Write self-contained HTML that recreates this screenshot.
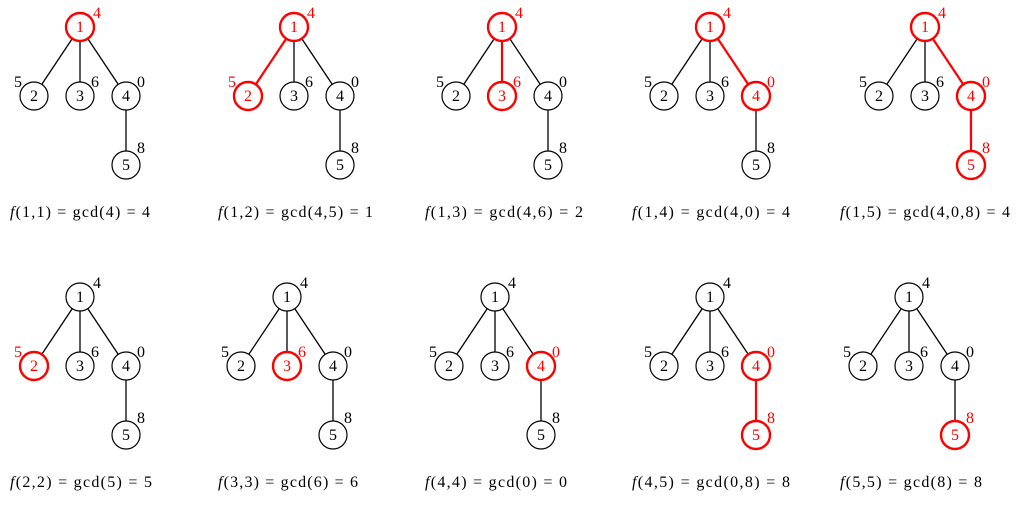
<!DOCTYPE html>
<html><head><meta charset="utf-8"><style>
html,body{margin:0;padding:0;background:#fff}
svg{display:block}
text{font-family:"Liberation Serif",serif;font-size:16px}
.n{font-size:16px;text-anchor:middle}
.c{font-size:16px}
</style></head><body>
<svg width="1020" height="505" viewBox="0 0 1020 505" xmlns="http://www.w3.org/2000/svg">
<defs>
<style>
line{stroke:#000;stroke-width:1.3}
line.r{stroke:#f00;stroke-width:2.2}
circle{fill:#fff;stroke:#000;stroke-width:1.2}
circle.r{stroke:#f00;stroke-width:2.4}
text.r{fill:#f00}
</style>
</defs>

<g transform="translate(80,27)">
<line x1="0" y1="0" x2="-46" y2="69"/><line x1="0" y1="0" x2="0" y2="69"/><line x1="0" y1="0" x2="46" y2="69"/><line x1="46" y1="69" x2="46" y2="138"/>
<circle class="r" cx="0" cy="0" r="14"/><circle cx="-46" cy="69" r="14"/><circle cx="0" cy="69" r="14"/><circle cx="46" cy="69" r="14"/><circle cx="46" cy="138" r="14"/>
<text class="n r" x="0" y="5">1</text><text class="n" x="-46" y="74">2</text><text class="n" x="0" y="74">3</text><text class="n" x="46" y="74">4</text><text class="n" x="46" y="143">5</text>
<text class="r" x="13" y="-9">4</text><text x="-66" y="60">5</text><text x="11" y="60">6</text><text x="57" y="60">0</text><text x="57" y="126">8</text>
</g>
<text class="c" x="10" y="217" textLength="140" lengthAdjust="spacing"><tspan font-style="italic">f</tspan>(1,1) = gcd(4) = 4</text>

<g transform="translate(294,27)">
<line class="r" x1="0" y1="0" x2="-46" y2="69"/><line x1="0" y1="0" x2="0" y2="69"/><line x1="0" y1="0" x2="46" y2="69"/><line x1="46" y1="69" x2="46" y2="138"/>
<circle class="r" cx="0" cy="0" r="14"/><circle class="r" cx="-46" cy="69" r="14"/><circle cx="0" cy="69" r="14"/><circle cx="46" cy="69" r="14"/><circle cx="46" cy="138" r="14"/>
<text class="n r" x="0" y="5">1</text><text class="n r" x="-46" y="74">2</text><text class="n" x="0" y="74">3</text><text class="n" x="46" y="74">4</text><text class="n" x="46" y="143">5</text>
<text class="r" x="13" y="-9">4</text><text class="r" x="-66" y="60">5</text><text x="11" y="60">6</text><text x="57" y="60">0</text><text x="57" y="126">8</text>
</g>
<text class="c" x="218" y="217" textLength="155" lengthAdjust="spacing"><tspan font-style="italic">f</tspan>(1,2) = gcd(4,5) = 1</text>

<g transform="translate(502,27)">
<line x1="0" y1="0" x2="-46" y2="69"/><line class="r" x1="0" y1="0" x2="0" y2="69"/><line x1="0" y1="0" x2="46" y2="69"/><line x1="46" y1="69" x2="46" y2="138"/>
<circle class="r" cx="0" cy="0" r="14"/><circle cx="-46" cy="69" r="14"/><circle class="r" cx="0" cy="69" r="14"/><circle cx="46" cy="69" r="14"/><circle cx="46" cy="138" r="14"/>
<text class="n r" x="0" y="5">1</text><text class="n" x="-46" y="74">2</text><text class="n r" x="0" y="74">3</text><text class="n" x="46" y="74">4</text><text class="n" x="46" y="143">5</text>
<text class="r" x="13" y="-9">4</text><text x="-66" y="60">5</text><text class="r" x="11" y="60">6</text><text x="57" y="60">0</text><text x="57" y="126">8</text>
</g>
<text class="c" x="425" y="217" textLength="158" lengthAdjust="spacing"><tspan font-style="italic">f</tspan>(1,3) = gcd(4,6) = 2</text>

<g transform="translate(710,27)">
<line x1="0" y1="0" x2="-46" y2="69"/><line x1="0" y1="0" x2="0" y2="69"/><line class="r" x1="0" y1="0" x2="46" y2="69"/><line x1="46" y1="69" x2="46" y2="138"/>
<circle class="r" cx="0" cy="0" r="14"/><circle cx="-46" cy="69" r="14"/><circle cx="0" cy="69" r="14"/><circle class="r" cx="46" cy="69" r="14"/><circle cx="46" cy="138" r="14"/>
<text class="n r" x="0" y="5">1</text><text class="n" x="-46" y="74">2</text><text class="n" x="0" y="74">3</text><text class="n r" x="46" y="74">4</text><text class="n" x="46" y="143">5</text>
<text class="r" x="13" y="-9">4</text><text x="-66" y="60">5</text><text x="11" y="60">6</text><text class="r" x="57" y="60">0</text><text x="57" y="126">8</text>
</g>
<text class="c" x="632" y="217" textLength="158" lengthAdjust="spacing"><tspan font-style="italic">f</tspan>(1,4) = gcd(4,0) = 4</text>

<g transform="translate(925,27)">
<line x1="0" y1="0" x2="-46" y2="69"/><line x1="0" y1="0" x2="0" y2="69"/><line class="r" x1="0" y1="0" x2="46" y2="69"/><line class="r" x1="46" y1="69" x2="46" y2="138"/>
<circle class="r" cx="0" cy="0" r="14"/><circle cx="-46" cy="69" r="14"/><circle cx="0" cy="69" r="14"/><circle class="r" cx="46" cy="69" r="14"/><circle class="r" cx="46" cy="138" r="14"/>
<text class="n r" x="0" y="5">1</text><text class="n" x="-46" y="74">2</text><text class="n" x="0" y="74">3</text><text class="n r" x="46" y="74">4</text><text class="n r" x="46" y="143">5</text>
<text class="r" x="13" y="-9">4</text><text x="-66" y="60">5</text><text x="11" y="60">6</text><text class="r" x="57" y="60">0</text><text class="r" x="57" y="126">8</text>
</g>
<text class="c" x="840" y="217" textLength="170" lengthAdjust="spacing"><tspan font-style="italic">f</tspan>(1,5) = gcd(4,0,8) = 4</text>

<g transform="translate(80,297)">
<line x1="0" y1="0" x2="-46" y2="69"/><line x1="0" y1="0" x2="0" y2="69"/><line x1="0" y1="0" x2="46" y2="69"/><line x1="46" y1="69" x2="46" y2="138"/>
<circle cx="0" cy="0" r="14"/><circle class="r" cx="-46" cy="69" r="14"/><circle cx="0" cy="69" r="14"/><circle cx="46" cy="69" r="14"/><circle cx="46" cy="138" r="14"/>
<text class="n" x="0" y="5">1</text><text class="n r" x="-46" y="74">2</text><text class="n" x="0" y="74">3</text><text class="n" x="46" y="74">4</text><text class="n" x="46" y="143">5</text>
<text x="13" y="-9">4</text><text class="r" x="-66" y="60">5</text><text x="11" y="60">6</text><text x="57" y="60">0</text><text x="57" y="126">8</text>
</g>
<text class="c" x="10" y="487" textLength="142" lengthAdjust="spacing"><tspan font-style="italic">f</tspan>(2,2) = gcd(5) = 5</text>

<g transform="translate(287,297)">
<line x1="0" y1="0" x2="-46" y2="69"/><line x1="0" y1="0" x2="0" y2="69"/><line x1="0" y1="0" x2="46" y2="69"/><line x1="46" y1="69" x2="46" y2="138"/>
<circle cx="0" cy="0" r="14"/><circle cx="-46" cy="69" r="14"/><circle class="r" cx="0" cy="69" r="14"/><circle cx="46" cy="69" r="14"/><circle cx="46" cy="138" r="14"/>
<text class="n" x="0" y="5">1</text><text class="n" x="-46" y="74">2</text><text class="n r" x="0" y="74">3</text><text class="n" x="46" y="74">4</text><text class="n" x="46" y="143">5</text>
<text x="13" y="-9">4</text><text x="-66" y="60">5</text><text class="r" x="11" y="60">6</text><text x="57" y="60">0</text><text x="57" y="126">8</text>
</g>
<text class="c" x="218" y="487" textLength="140" lengthAdjust="spacing"><tspan font-style="italic">f</tspan>(3,3) = gcd(6) = 6</text>

<g transform="translate(495,297)">
<line x1="0" y1="0" x2="-46" y2="69"/><line x1="0" y1="0" x2="0" y2="69"/><line x1="0" y1="0" x2="46" y2="69"/><line x1="46" y1="69" x2="46" y2="138"/>
<circle cx="0" cy="0" r="14"/><circle cx="-46" cy="69" r="14"/><circle cx="0" cy="69" r="14"/><circle class="r" cx="46" cy="69" r="14"/><circle cx="46" cy="138" r="14"/>
<text class="n" x="0" y="5">1</text><text class="n" x="-46" y="74">2</text><text class="n" x="0" y="74">3</text><text class="n r" x="46" y="74">4</text><text class="n" x="46" y="143">5</text>
<text x="13" y="-9">4</text><text x="-66" y="60">5</text><text x="11" y="60">6</text><text class="r" x="57" y="60">0</text><text x="57" y="126">8</text>
</g>
<text class="c" x="425" y="487" textLength="142" lengthAdjust="spacing"><tspan font-style="italic">f</tspan>(4,4) = gcd(0) = 0</text>

<g transform="translate(710,297)">
<line x1="0" y1="0" x2="-46" y2="69"/><line x1="0" y1="0" x2="0" y2="69"/><line x1="0" y1="0" x2="46" y2="69"/><line class="r" x1="46" y1="69" x2="46" y2="138"/>
<circle cx="0" cy="0" r="14"/><circle cx="-46" cy="69" r="14"/><circle cx="0" cy="69" r="14"/><circle class="r" cx="46" cy="69" r="14"/><circle class="r" cx="46" cy="138" r="14"/>
<text class="n" x="0" y="5">1</text><text class="n" x="-46" y="74">2</text><text class="n" x="0" y="74">3</text><text class="n r" x="46" y="74">4</text><text class="n r" x="46" y="143">5</text>
<text x="13" y="-9">4</text><text x="-66" y="60">5</text><text x="11" y="60">6</text><text class="r" x="57" y="60">0</text><text class="r" x="57" y="126">8</text>
</g>
<text class="c" x="632" y="487" textLength="158" lengthAdjust="spacing"><tspan font-style="italic">f</tspan>(4,5) = gcd(0,8) = 8</text>

<g transform="translate(909,297)">
<line x1="0" y1="0" x2="-46" y2="69"/><line x1="0" y1="0" x2="0" y2="69"/><line x1="0" y1="0" x2="46" y2="69"/><line x1="46" y1="69" x2="46" y2="138"/>
<circle cx="0" cy="0" r="14"/><circle cx="-46" cy="69" r="14"/><circle cx="0" cy="69" r="14"/><circle cx="46" cy="69" r="14"/><circle class="r" cx="46" cy="138" r="14"/>
<text class="n" x="0" y="5">1</text><text class="n" x="-46" y="74">2</text><text class="n" x="0" y="74">3</text><text class="n" x="46" y="74">4</text><text class="n r" x="46" y="143">5</text>
<text x="13" y="-9">4</text><text x="-66" y="60">5</text><text x="11" y="60">6</text><text x="57" y="60">0</text><text class="r" x="57" y="126">8</text>
</g>
<text class="c" x="840" y="487" textLength="142" lengthAdjust="spacing"><tspan font-style="italic">f</tspan>(5,5) = gcd(8) = 8</text>
</svg>
</body></html>
